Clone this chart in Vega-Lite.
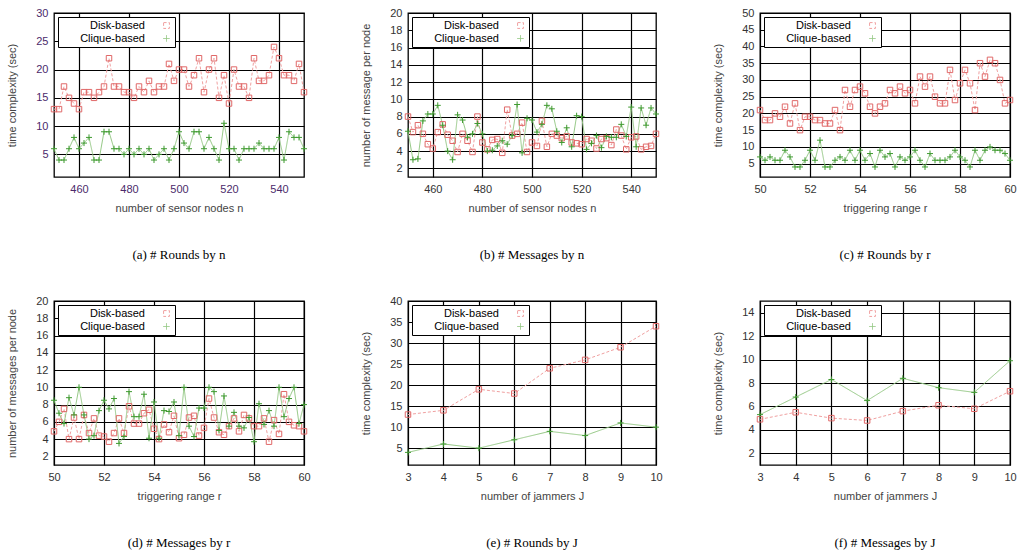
{
"$schema":"https://vega.github.io/schema/vega-lite/v6.json",
"background":"white",
"padding":{"left":6,"top":6,"right":2,"bottom":2},
"config":{
 "font":"Liberation Sans",
 "view":{"stroke":"black","strokeWidth":1.3},
 "axis":{"grid":true,"gridColor":"black","gridOpacity":1,"gridWidth":1.2,"ticks":false,"domain":false,"labelFont":"Liberation Sans","titleFont":"Liberation Sans","labelFontSize":11,"labelColor":"#333","titleFontSize":11,"titleFontWeight":"normal","titleColor":"#444","labelPadding":6,"titlePadding":8,"labelFlush":false},
 "axisY":{"titlePadding":18},
 "legend":{"fillColor":"white","strokeColor":"black","padding":3,"offset":4,"labelFont":"Liberation Sans","labelFontSize":11,"labelColor":"black","labelAlign":"right","labelOffset":-27,"symbolOffset":100,"symbolSize":34,"symbolStrokeWidth":1,"rowPadding":1,"labelLimit":200,"cornerRadius":0},
 "title":{"orient":"bottom","font":"Liberation Serif","fontSize":13,"fontWeight":"normal","color":"black","offset":36,"anchor":"middle"}
},
"datasets":{
"a":[{"x":450,"y":13,"s":"D"},{"x":452,"y":13,"s":"D"},{"x":454,"y":17,"s":"D"},{"x":456,"y":15,"s":"D"},{"x":458,"y":14,"s":"D"},{"x":460,"y":13,"s":"D"},{"x":462,"y":16,"s":"D"},{"x":464,"y":16,"s":"D"},{"x":466,"y":15,"s":"D"},{"x":468,"y":16,"s":"D"},{"x":470,"y":17,"s":"D"},{"x":472,"y":22,"s":"D"},{"x":474,"y":17,"s":"D"},{"x":476,"y":17,"s":"D"},{"x":478,"y":16,"s":"D"},{"x":480,"y":16,"s":"D"},{"x":482,"y":15,"s":"D"},{"x":484,"y":17,"s":"D"},{"x":486,"y":16,"s":"D"},{"x":488,"y":18,"s":"D"},{"x":490,"y":16,"s":"D"},{"x":492,"y":17,"s":"D"},{"x":494,"y":17,"s":"D"},{"x":496,"y":21,"s":"D"},{"x":498,"y":18,"s":"D"},{"x":500,"y":20,"s":"D"},{"x":502,"y":20,"s":"D"},{"x":504,"y":17,"s":"D"},{"x":506,"y":19,"s":"D"},{"x":508,"y":22,"s":"D"},{"x":510,"y":16,"s":"D"},{"x":512,"y":20,"s":"D"},{"x":514,"y":22,"s":"D"},{"x":516,"y":15,"s":"D"},{"x":518,"y":19,"s":"D"},{"x":520,"y":14,"s":"D"},{"x":522,"y":20,"s":"D"},{"x":524,"y":17,"s":"D"},{"x":526,"y":17,"s":"D"},{"x":528,"y":15,"s":"D"},{"x":530,"y":22,"s":"D"},{"x":532,"y":18,"s":"D"},{"x":534,"y":18,"s":"D"},{"x":536,"y":19,"s":"D"},{"x":538,"y":24,"s":"D"},{"x":540,"y":22,"s":"D"},{"x":542,"y":19,"s":"D"},{"x":544,"y":19,"s":"D"},{"x":546,"y":18,"s":"D"},{"x":548,"y":21,"s":"D"},{"x":550,"y":16,"s":"D"},
{"x":450,"y":6,"s":"C"},{"x":452,"y":4,"s":"C"},{"x":454,"y":4,"s":"C"},{"x":456,"y":6,"s":"C"},{"x":458,"y":8,"s":"C"},{"x":460,"y":6,"s":"C"},{"x":462,"y":7,"s":"C"},{"x":464,"y":8,"s":"C"},{"x":466,"y":4,"s":"C"},{"x":468,"y":4,"s":"C"},{"x":470,"y":9,"s":"C"},{"x":472,"y":9,"s":"C"},{"x":474,"y":6,"s":"C"},{"x":476,"y":6,"s":"C"},{"x":478,"y":5,"s":"C"},{"x":480,"y":6,"s":"C"},{"x":482,"y":5,"s":"C"},{"x":484,"y":6,"s":"C"},{"x":486,"y":5,"s":"C"},{"x":488,"y":6,"s":"C"},{"x":490,"y":4,"s":"C"},{"x":492,"y":5,"s":"C"},{"x":494,"y":6,"s":"C"},{"x":496,"y":4,"s":"C"},{"x":498,"y":6,"s":"C"},{"x":500,"y":9,"s":"C"},{"x":502,"y":7,"s":"C"},{"x":504,"y":6,"s":"C"},{"x":506,"y":9,"s":"C"},{"x":508,"y":9,"s":"C"},{"x":510,"y":6,"s":"C"},{"x":512,"y":8,"s":"C"},{"x":514,"y":6,"s":"C"},{"x":516,"y":4,"s":"C"},{"x":518,"y":10.5,"s":"C"},{"x":520,"y":6,"s":"C"},{"x":522,"y":6,"s":"C"},{"x":524,"y":4,"s":"C"},{"x":526,"y":6,"s":"C"},{"x":528,"y":6,"s":"C"},{"x":530,"y":6,"s":"C"},{"x":532,"y":7,"s":"C"},{"x":534,"y":6,"s":"C"},{"x":536,"y":6,"s":"C"},{"x":538,"y":6,"s":"C"},{"x":540,"y":8,"s":"C"},{"x":542,"y":4,"s":"C"},{"x":544,"y":9,"s":"C"},{"x":546,"y":8,"s":"C"},{"x":548,"y":8,"s":"C"},{"x":550,"y":6,"s":"C"}],
"b":[{"x":450,"y":8,"s":"D"},{"x":452,"y":6.2,"s":"D"},{"x":454,"y":7,"s":"D"},{"x":456,"y":6,"s":"D"},{"x":458,"y":4.8,"s":"D"},{"x":460,"y":4.3,"s":"D"},{"x":462,"y":6.2,"s":"D"},{"x":464,"y":7.1,"s":"D"},{"x":466,"y":5.9,"s":"D"},{"x":468,"y":5.2,"s":"D"},{"x":470,"y":3.9,"s":"D"},{"x":472,"y":6,"s":"D"},{"x":474,"y":5.2,"s":"D"},{"x":476,"y":3.9,"s":"D"},{"x":478,"y":8,"s":"D"},{"x":480,"y":5,"s":"D"},{"x":482,"y":4.2,"s":"D"},{"x":484,"y":5.3,"s":"D"},{"x":486,"y":5.4,"s":"D"},{"x":488,"y":3.8,"s":"D"},{"x":490,"y":8.8,"s":"D"},{"x":492,"y":5.8,"s":"D"},{"x":494,"y":6,"s":"D"},{"x":496,"y":7.3,"s":"D"},{"x":498,"y":3.9,"s":"D"},{"x":500,"y":5,"s":"D"},{"x":502,"y":4.6,"s":"D"},{"x":504,"y":7.5,"s":"D"},{"x":506,"y":4.5,"s":"D"},{"x":508,"y":6,"s":"D"},{"x":510,"y":5.8,"s":"D"},{"x":512,"y":5.5,"s":"D"},{"x":514,"y":5.7,"s":"D"},{"x":516,"y":5,"s":"D"},{"x":518,"y":4.9,"s":"D"},{"x":520,"y":4.8,"s":"D"},{"x":522,"y":5.4,"s":"D"},{"x":524,"y":5.2,"s":"D"},{"x":526,"y":4.3,"s":"D"},{"x":528,"y":5.4,"s":"D"},{"x":530,"y":5.5,"s":"D"},{"x":532,"y":4.7,"s":"D"},{"x":534,"y":6.5,"s":"D"},{"x":536,"y":5.8,"s":"D"},{"x":538,"y":4.2,"s":"D"},{"x":540,"y":5.6,"s":"D"},{"x":542,"y":5.7,"s":"D"},{"x":544,"y":4.2,"s":"D"},{"x":546,"y":4.5,"s":"D"},{"x":548,"y":4.6,"s":"D"},{"x":550,"y":6,"s":"D"},
{"x":450,"y":6.3,"s":"C"},{"x":452,"y":3,"s":"C"},{"x":454,"y":3.1,"s":"C"},{"x":456,"y":7.5,"s":"C"},{"x":458,"y":8.3,"s":"C"},{"x":460,"y":8.3,"s":"C"},{"x":462,"y":9.3,"s":"C"},{"x":464,"y":7,"s":"C"},{"x":466,"y":4,"s":"C"},{"x":468,"y":3,"s":"C"},{"x":470,"y":8.2,"s":"C"},{"x":472,"y":7.6,"s":"C"},{"x":474,"y":5.6,"s":"C"},{"x":476,"y":6,"s":"C"},{"x":478,"y":7.2,"s":"C"},{"x":480,"y":6,"s":"C"},{"x":482,"y":4,"s":"C"},{"x":484,"y":4.1,"s":"C"},{"x":486,"y":4.6,"s":"C"},{"x":488,"y":5.2,"s":"C"},{"x":490,"y":4.8,"s":"C"},{"x":492,"y":5.8,"s":"C"},{"x":494,"y":9.4,"s":"C"},{"x":496,"y":3.8,"s":"C"},{"x":498,"y":7.8,"s":"C"},{"x":500,"y":7.6,"s":"C"},{"x":502,"y":6.2,"s":"C"},{"x":504,"y":7.1,"s":"C"},{"x":506,"y":9.3,"s":"C"},{"x":508,"y":8.9,"s":"C"},{"x":510,"y":6.3,"s":"C"},{"x":512,"y":5,"s":"C"},{"x":514,"y":6.7,"s":"C"},{"x":516,"y":4.5,"s":"C"},{"x":518,"y":8.1,"s":"C"},{"x":520,"y":8,"s":"C"},{"x":522,"y":4.2,"s":"C"},{"x":524,"y":4.9,"s":"C"},{"x":526,"y":5.8,"s":"C"},{"x":528,"y":4.4,"s":"C"},{"x":530,"y":5.7,"s":"C"},{"x":532,"y":5.6,"s":"C"},{"x":534,"y":5.6,"s":"C"},{"x":536,"y":7.1,"s":"C"},{"x":538,"y":5.7,"s":"C"},{"x":540,"y":9.1,"s":"C"},{"x":542,"y":4.5,"s":"C"},{"x":544,"y":9,"s":"C"},{"x":546,"y":7,"s":"C"},{"x":548,"y":9,"s":"C"},{"x":550,"y":8.3,"s":"C"}],
"c":[{"x":50,"y":21,"s":"D"},{"x":50.2,"y":18,"s":"D"},{"x":50.4,"y":18,"s":"D"},{"x":50.6,"y":20,"s":"D"},{"x":50.8,"y":19,"s":"D"},{"x":51,"y":22,"s":"D"},{"x":51.2,"y":17,"s":"D"},{"x":51.4,"y":23,"s":"D"},{"x":51.6,"y":15,"s":"D"},{"x":51.8,"y":19,"s":"D"},{"x":52,"y":19,"s":"D"},{"x":52.2,"y":18,"s":"D"},{"x":52.4,"y":18,"s":"D"},{"x":52.6,"y":17,"s":"D"},{"x":52.8,"y":17,"s":"D"},{"x":53,"y":21,"s":"D"},{"x":53.2,"y":15,"s":"D"},{"x":53.4,"y":27,"s":"D"},{"x":53.6,"y":22,"s":"D"},{"x":53.8,"y":27,"s":"D"},{"x":54,"y":28,"s":"D"},{"x":54.2,"y":26,"s":"D"},{"x":54.4,"y":22,"s":"D"},{"x":54.6,"y":20,"s":"D"},{"x":54.8,"y":22,"s":"D"},{"x":55,"y":23,"s":"D"},{"x":55.2,"y":27,"s":"D"},{"x":55.4,"y":26,"s":"D"},{"x":55.6,"y":28,"s":"D"},{"x":55.8,"y":26,"s":"D"},{"x":56,"y":27,"s":"D"},{"x":56.2,"y":23,"s":"D"},{"x":56.4,"y":31,"s":"D"},{"x":56.6,"y":28,"s":"D"},{"x":56.8,"y":31,"s":"D"},{"x":57,"y":25,"s":"D"},{"x":57.2,"y":23,"s":"D"},{"x":57.4,"y":23,"s":"D"},{"x":57.6,"y":33,"s":"D"},{"x":57.8,"y":24,"s":"D"},{"x":58,"y":29,"s":"D"},{"x":58.2,"y":33,"s":"D"},{"x":58.4,"y":29,"s":"D"},{"x":58.6,"y":21,"s":"D"},{"x":58.8,"y":35,"s":"D"},{"x":59,"y":31,"s":"D"},{"x":59.2,"y":36,"s":"D"},{"x":59.4,"y":35,"s":"D"},{"x":59.6,"y":30,"s":"D"},{"x":59.8,"y":23,"s":"D"},{"x":60,"y":24,"s":"D"},
{"x":50,"y":7,"s":"C"},{"x":50.2,"y":6,"s":"C"},{"x":50.4,"y":7,"s":"C"},{"x":50.6,"y":6,"s":"C"},{"x":50.8,"y":6,"s":"C"},{"x":51,"y":9,"s":"C"},{"x":51.2,"y":7,"s":"C"},{"x":51.4,"y":4,"s":"C"},{"x":51.6,"y":4,"s":"C"},{"x":51.8,"y":6,"s":"C"},{"x":52,"y":9,"s":"C"},{"x":52.2,"y":6,"s":"C"},{"x":52.4,"y":12,"s":"C"},{"x":52.6,"y":4,"s":"C"},{"x":52.8,"y":4,"s":"C"},{"x":53,"y":6,"s":"C"},{"x":53.2,"y":7,"s":"C"},{"x":53.4,"y":6,"s":"C"},{"x":53.6,"y":9,"s":"C"},{"x":53.8,"y":6,"s":"C"},{"x":54,"y":9,"s":"C"},{"x":54.2,"y":6,"s":"C"},{"x":54.4,"y":8,"s":"C"},{"x":54.6,"y":4,"s":"C"},{"x":54.8,"y":9,"s":"C"},{"x":55,"y":7,"s":"C"},{"x":55.2,"y":8,"s":"C"},{"x":55.4,"y":4,"s":"C"},{"x":55.6,"y":7,"s":"C"},{"x":55.8,"y":6,"s":"C"},{"x":56,"y":7,"s":"C"},{"x":56.2,"y":9,"s":"C"},{"x":56.4,"y":6,"s":"C"},{"x":56.6,"y":4,"s":"C"},{"x":56.8,"y":8,"s":"C"},{"x":57,"y":6,"s":"C"},{"x":57.2,"y":6,"s":"C"},{"x":57.4,"y":6,"s":"C"},{"x":57.6,"y":7,"s":"C"},{"x":57.8,"y":9,"s":"C"},{"x":58,"y":7,"s":"C"},{"x":58.2,"y":6,"s":"C"},{"x":58.4,"y":4,"s":"C"},{"x":58.6,"y":9,"s":"C"},{"x":58.8,"y":6,"s":"C"},{"x":59,"y":9,"s":"C"},{"x":59.2,"y":10,"s":"C"},{"x":59.4,"y":9,"s":"C"},{"x":59.6,"y":9,"s":"C"},{"x":59.8,"y":8,"s":"C"},{"x":60,"y":6,"s":"C"}],
"d":[{"x":50,"y":4.9,"s":"D"},{"x":50.2,"y":6,"s":"D"},{"x":50.4,"y":7.5,"s":"D"},{"x":50.6,"y":4,"s":"D"},{"x":50.8,"y":6.5,"s":"D"},{"x":51,"y":4,"s":"D"},{"x":51.2,"y":6.8,"s":"D"},{"x":51.4,"y":4.7,"s":"D"},{"x":51.6,"y":6.4,"s":"D"},{"x":51.8,"y":4.4,"s":"D"},{"x":52,"y":4.3,"s":"D"},{"x":52.2,"y":3.7,"s":"D"},{"x":52.4,"y":4.7,"s":"D"},{"x":52.6,"y":6.4,"s":"D"},{"x":52.8,"y":4.7,"s":"D"},{"x":53,"y":7.8,"s":"D"},{"x":53.2,"y":5.8,"s":"D"},{"x":53.4,"y":5.8,"s":"D"},{"x":53.6,"y":7,"s":"D"},{"x":53.8,"y":7.4,"s":"D"},{"x":54,"y":5.2,"s":"D"},{"x":54.2,"y":4,"s":"D"},{"x":54.4,"y":5.7,"s":"D"},{"x":54.6,"y":4.8,"s":"D"},{"x":54.8,"y":6.7,"s":"D"},{"x":55,"y":4.1,"s":"D"},{"x":55.2,"y":4.5,"s":"D"},{"x":55.4,"y":6.5,"s":"D"},{"x":55.6,"y":6.7,"s":"D"},{"x":55.8,"y":4.4,"s":"D"},{"x":56,"y":5.3,"s":"D"},{"x":56.2,"y":8.7,"s":"D"},{"x":56.4,"y":6.5,"s":"D"},{"x":56.6,"y":4.8,"s":"D"},{"x":56.8,"y":4.5,"s":"D"},{"x":57,"y":5.5,"s":"D"},{"x":57.2,"y":6.4,"s":"D"},{"x":57.4,"y":4.9,"s":"D"},{"x":57.6,"y":6.8,"s":"D"},{"x":57.8,"y":6.4,"s":"D"},{"x":58,"y":5.5,"s":"D"},{"x":58.2,"y":5.5,"s":"D"},{"x":58.4,"y":6.4,"s":"D"},{"x":58.6,"y":3.7,"s":"D"},{"x":58.8,"y":6.2,"s":"D"},{"x":59,"y":4.6,"s":"D"},{"x":59.2,"y":9.2,"s":"D"},{"x":59.4,"y":6,"s":"D"},{"x":59.6,"y":5.6,"s":"D"},{"x":59.8,"y":5.5,"s":"D"},{"x":60,"y":4.9,"s":"D"},
{"x":50,"y":8.5,"s":"C"},{"x":50.2,"y":7,"s":"C"},{"x":50.4,"y":5.8,"s":"C"},{"x":50.6,"y":8.8,"s":"C"},{"x":50.8,"y":6.8,"s":"C"},{"x":51,"y":10,"s":"C"},{"x":51.2,"y":6.8,"s":"C"},{"x":51.4,"y":4,"s":"C"},{"x":51.6,"y":4.4,"s":"C"},{"x":51.8,"y":7.3,"s":"C"},{"x":52,"y":8.5,"s":"C"},{"x":52.2,"y":7.5,"s":"C"},{"x":52.4,"y":8.7,"s":"C"},{"x":52.6,"y":3.5,"s":"C"},{"x":52.8,"y":4.3,"s":"C"},{"x":53,"y":9.5,"s":"C"},{"x":53.2,"y":6.6,"s":"C"},{"x":53.4,"y":6.6,"s":"C"},{"x":53.6,"y":9.2,"s":"C"},{"x":53.8,"y":4.1,"s":"C"},{"x":54,"y":8.3,"s":"C"},{"x":54.2,"y":4.1,"s":"C"},{"x":54.4,"y":7.3,"s":"C"},{"x":54.6,"y":7.2,"s":"C"},{"x":54.8,"y":8.3,"s":"C"},{"x":55,"y":4.4,"s":"C"},{"x":55.2,"y":10,"s":"C"},{"x":55.4,"y":5.5,"s":"C"},{"x":55.6,"y":4.3,"s":"C"},{"x":55.8,"y":7.6,"s":"C"},{"x":56,"y":7.6,"s":"C"},{"x":56.2,"y":10,"s":"C"},{"x":56.4,"y":9.5,"s":"C"},{"x":56.6,"y":5,"s":"C"},{"x":56.8,"y":9,"s":"C"},{"x":57,"y":5.5,"s":"C"},{"x":57.2,"y":7.1,"s":"C"},{"x":57.4,"y":5.5,"s":"C"},{"x":57.6,"y":5.3,"s":"C"},{"x":57.8,"y":6.5,"s":"C"},{"x":58,"y":3.7,"s":"C"},{"x":58.2,"y":8.1,"s":"C"},{"x":58.4,"y":5.7,"s":"C"},{"x":58.6,"y":7.3,"s":"C"},{"x":58.8,"y":5.5,"s":"C"},{"x":59,"y":10,"s":"C"},{"x":59.2,"y":6.6,"s":"C"},{"x":59.4,"y":8.7,"s":"C"},{"x":59.6,"y":10,"s":"C"},{"x":59.8,"y":5.8,"s":"C"},{"x":60,"y":8,"s":"C"}],
"e":[{"x":3,"y":13,"s":"D"},{"x":4,"y":14,"s":"D"},{"x":5,"y":19,"s":"D"},{"x":6,"y":18,"s":"D"},{"x":7,"y":24,"s":"D"},{"x":8,"y":26,"s":"D"},{"x":9,"y":29,"s":"D"},{"x":10,"y":34,"s":"D"},
{"x":3,"y":4,"s":"C"},{"x":4,"y":6,"s":"C"},{"x":5,"y":5,"s":"C"},{"x":6,"y":7,"s":"C"},{"x":7,"y":9,"s":"C"},{"x":8,"y":8,"s":"C"},{"x":9,"y":11,"s":"C"},{"x":10,"y":10,"s":"C"}],
"f":[{"x":3,"y":4.9,"s":"D"},{"x":4,"y":5.5,"s":"D"},{"x":5,"y":5.0,"s":"D"},{"x":6,"y":4.8,"s":"D"},{"x":7,"y":5.6,"s":"D"},{"x":8,"y":6.1,"s":"D"},{"x":9,"y":5.8,"s":"D"},{"x":10,"y":7.3,"s":"D"},
{"x":3,"y":5.3,"s":"C"},{"x":4,"y":6.8,"s":"C"},{"x":5,"y":8.3,"s":"C"},{"x":6,"y":6.5,"s":"C"},{"x":7,"y":8.4,"s":"C"},{"x":8,"y":7.6,"s":"C"},{"x":9,"y":7.2,"s":"C"},{"x":10,"y":9.9,"s":"C"}]
},
"concat":[
 {"width":250,"height":164,"data":{"name":"a"},"title":{"text":"(a)  # Rounds by n"},
  "encoding":{"x":{"field":"x","type":"quantitative","scale":{"domain":[450,550],"nice":false,"zero":false},"axis":{"values":[460,480,500,520,540],"title":"number of sensor nodes n","labelColor":"#4b2a6b"}},
   "y":{"field":"y","type":"quantitative","scale":{"domain":[1,30],"nice":false,"zero":false},"axis":{"values":[5,10,15,20,25,30],"title":"time complexity (sec)","labelColor":"#4b2a6b"}}},
  "layer":[
   {"mark":{"type":"line","strokeWidth":1},"encoding":{"color":{"field":"s","type":"nominal","scale":{"domain":["D","C"],"range":["#f0a0a0","#94c884"]},"legend":{"title":null,"orient":"top-left","labelExpr":"datum.value=='D'?'Disk-based':'Clique-based'"}},"strokeDash":{"field":"s","type":"nominal","scale":{"domain":["D","C"],"range":[[3,2],[1,0]]},"legend":null}}},
   {"mark":{"type":"point","filled":false,"strokeWidth":1,"size":30,"opacity":1},"encoding":{"stroke":{"field":"s","type":"nominal","scale":{"domain":["D","C"],"range":["#e06868","#3f9a30"]},"legend":null},"shape":{"field":"s","type":"nominal","scale":{"domain":["D","C"],"range":["M-1,-1H1V1H-1Z","M-1.1,0H1.1M0,-1.1V1.1"]},"legend":null}}}
  ]},
 {"width":248,"height":164,"data":{"name":"b"},"title":{"text":"(b)  # Messages by n"},
  "encoding":{"x":{"field":"x","type":"quantitative","scale":{"domain":[450,550],"nice":false,"zero":false},"axis":{"values":[460,480,500,520,540],"title":"number of sensor nodes n"}},
   "y":{"field":"y","type":"quantitative","scale":{"domain":[1,20],"nice":false,"zero":false},"axis":{"values":[2,4,6,8,10,12,14,16,18,20],"title":"number of message per node"}}},
  "layer":[
   {"mark":{"type":"line","strokeWidth":1},"encoding":{"color":{"field":"s","type":"nominal","scale":{"domain":["D","C"],"range":["#f0a0a0","#94c884"]},"legend":{"title":null,"orient":"top-left","labelExpr":"datum.value=='D'?'Disk-based':'Clique-based'"}},"strokeDash":{"field":"s","type":"nominal","scale":{"domain":["D","C"],"range":[[3,2],[1,0]]},"legend":null}}},
   {"mark":{"type":"point","filled":false,"strokeWidth":1,"size":30,"opacity":1},"encoding":{"stroke":{"field":"s","type":"nominal","scale":{"domain":["D","C"],"range":["#e06868","#3f9a30"]},"legend":null},"shape":{"field":"s","type":"nominal","scale":{"domain":["D","C"],"range":["M-1,-1H1V1H-1Z","M-1.1,0H1.1M0,-1.1V1.1"]},"legend":null}}}
  ]},
 {"width":250,"height":164,"data":{"name":"c"},"title":{"text":"(c)  # Rounds by r"},
  "encoding":{"x":{"field":"x","type":"quantitative","scale":{"domain":[50,60],"nice":false,"zero":false},"axis":{"values":[50,52,54,56,58,60],"title":"triggering range r"}},
   "y":{"field":"y","type":"quantitative","scale":{"domain":[1,50],"nice":false,"zero":false},"axis":{"values":[5,10,15,20,25,30,35,40,45,50],"title":"time complexity (sec)"}}},
  "layer":[
   {"mark":{"type":"line","strokeWidth":1},"encoding":{"color":{"field":"s","type":"nominal","scale":{"domain":["D","C"],"range":["#f0a0a0","#94c884"]},"legend":{"title":null,"orient":"top-left","labelExpr":"datum.value=='D'?'Disk-based':'Clique-based'"}},"strokeDash":{"field":"s","type":"nominal","scale":{"domain":["D","C"],"range":[[3,2],[1,0]]},"legend":null}}},
   {"mark":{"type":"point","filled":false,"strokeWidth":1,"size":30,"opacity":1},"encoding":{"stroke":{"field":"s","type":"nominal","scale":{"domain":["D","C"],"range":["#e06868","#3f9a30"]},"legend":null},"shape":{"field":"s","type":"nominal","scale":{"domain":["D","C"],"range":["M-1,-1H1V1H-1Z","M-1.1,0H1.1M0,-1.1V1.1"]},"legend":null}}}
  ]},
 {"width":250,"height":164,"data":{"name":"d"},"title":{"text":"(d)  # Messages by r"},
  "encoding":{"x":{"field":"x","type":"quantitative","scale":{"domain":[50,60],"nice":false,"zero":false},"axis":{"values":[50,52,54,56,58,60],"title":"triggering range r"}},
   "y":{"field":"y","type":"quantitative","scale":{"domain":[1,20],"nice":false,"zero":false},"axis":{"values":[2,4,6,8,10,12,14,16,18,20],"title":"number of messages per node"}}},
  "layer":[
   {"mark":{"type":"line","strokeWidth":1},"encoding":{"color":{"field":"s","type":"nominal","scale":{"domain":["D","C"],"range":["#f0a0a0","#94c884"]},"legend":{"title":null,"orient":"top-left","labelExpr":"datum.value=='D'?'Disk-based':'Clique-based'"}},"strokeDash":{"field":"s","type":"nominal","scale":{"domain":["D","C"],"range":[[3,2],[1,0]]},"legend":null}}},
   {"mark":{"type":"point","filled":false,"strokeWidth":1,"size":30,"opacity":1},"encoding":{"stroke":{"field":"s","type":"nominal","scale":{"domain":["D","C"],"range":["#e06868","#3f9a30"]},"legend":null},"shape":{"field":"s","type":"nominal","scale":{"domain":["D","C"],"range":["M-1,-1H1V1H-1Z","M-1.1,0H1.1M0,-1.1V1.1"]},"legend":null}}}
  ]},
 {"width":248,"height":164,"data":{"name":"e"},"title":{"text":"(e)  # Rounds by J"},
  "encoding":{"x":{"field":"x","type":"quantitative","scale":{"domain":[3,10],"nice":false,"zero":false},"axis":{"values":[3,4,5,6,7,8,9,10],"title":"number of jammers J"}},
   "y":{"field":"y","type":"quantitative","scale":{"domain":[1,40],"nice":false,"zero":false},"axis":{"values":[5,10,15,20,25,30,35,40],"title":"time complexity (sec)"}}},
  "layer":[
   {"mark":{"type":"line","strokeWidth":1},"encoding":{"color":{"field":"s","type":"nominal","scale":{"domain":["D","C"],"range":["#f0a0a0","#94c884"]},"legend":{"title":null,"orient":"top-left","labelExpr":"datum.value=='D'?'Disk-based':'Clique-based'"}},"strokeDash":{"field":"s","type":"nominal","scale":{"domain":["D","C"],"range":[[3,2],[1,0]]},"legend":null}}},
   {"mark":{"type":"point","filled":false,"strokeWidth":1,"size":30,"opacity":1},"encoding":{"stroke":{"field":"s","type":"nominal","scale":{"domain":["D","C"],"range":["#e06868","#3f9a30"]},"legend":null},"shape":{"field":"s","type":"nominal","scale":{"domain":["D","C"],"range":["M-1,-1H1V1H-1Z","M-1.1,0H1.1M0,-1.1V1.1"]},"legend":null}}}
  ]},
 {"width":250,"height":164,"data":{"name":"f"},"title":{"text":"(f)  # Messages by J"},
  "encoding":{"x":{"field":"x","type":"quantitative","scale":{"domain":[3,10],"nice":false,"zero":false},"axis":{"values":[3,4,5,6,7,8,9,10],"title":"number of jammers J"}},
   "y":{"field":"y","type":"quantitative","scale":{"domain":[1,15],"nice":false,"zero":false},"axis":{"values":[2,4,6,8,10,12,14],"title":"time complexity (sec)"}}},
  "layer":[
   {"mark":{"type":"line","strokeWidth":1},"encoding":{"color":{"field":"s","type":"nominal","scale":{"domain":["D","C"],"range":["#f0a0a0","#94c884"]},"legend":{"title":null,"orient":"top-left","labelExpr":"datum.value=='D'?'Disk-based':'Clique-based'"}},"strokeDash":{"field":"s","type":"nominal","scale":{"domain":["D","C"],"range":[[3,2],[1,0]]},"legend":null}}},
   {"mark":{"type":"point","filled":false,"strokeWidth":1,"size":30,"opacity":1},"encoding":{"stroke":{"field":"s","type":"nominal","scale":{"domain":["D","C"],"range":["#e06868","#3f9a30"]},"legend":null},"shape":{"field":"s","type":"nominal","scale":{"domain":["D","C"],"range":["M-1,-1H1V1H-1Z","M-1.1,0H1.1M0,-1.1V1.1"]},"legend":null}}}
  ]}
],
"columns":3,
"spacing":{"row":124,"column":104},"bounds":"flush",
"resolve":{"scale":{"x":"independent","y":"independent","color":"independent","stroke":"independent","shape":"independent","strokeDash":"independent"},"legend":{"color":"independent","shape":"independent","stroke":"independent","strokeDash":"independent"}}
}
